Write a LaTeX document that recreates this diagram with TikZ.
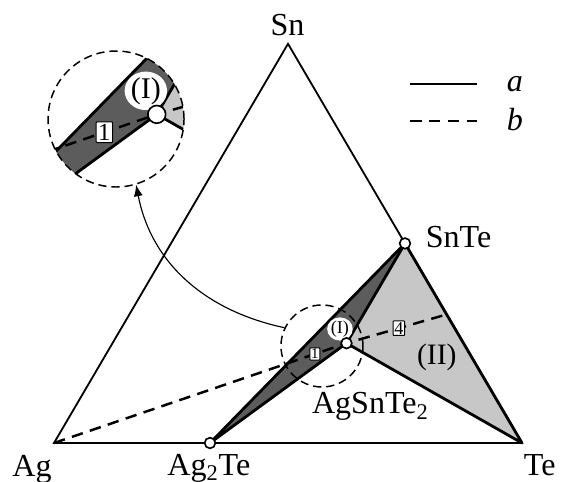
\documentclass[tikz,border=0pt]{standalone}
\usepackage{fontspec}
\setmainfont{Liberation Serif}
\usepackage{tikz}
\usetikzlibrary{arrows.meta,shapes.geometric}

\tikzset{
  edge/.style={line width=1.1pt},
  tieline/.style={line width=1.7pt, line join=round},
  section/.style={line width=1.5pt, dash pattern=on 7pt off 4.5pt},
  regionI/.style={fill=black!64},
  regionII/.style={fill=black!22},
  phase/.style={circle, draw, fill=white, line width=1pt, minimum size=6.5pt, inner sep=0pt},
  zoomring/.style={circle, draw, line width=0.9pt, dash pattern=on 5pt off 3pt, inner sep=0pt},
  numbox/.style={draw, solid, fill=white, line width=0.6pt, inner sep=0.8pt, rounded corners=0.5pt, font=\fontsize{11}{12}\selectfont},
  roman/.style={ellipse, fill=white, inner sep=0pt, font=\fontsize{11}{12}\selectfont},
  lbl/.style={anchor=base, font=\fontsize{19.5}{22}\selectfont}
}

% phase field of the Ag--Sn--Te triangle, #1 = name prefix
\newcommand{\phasefield}[1]{
  \coordinate (#1Ag) at (0,0);
  \coordinate (#1Te) at (10,0);
  \coordinate (#1Sn) at (5,8.53);
  \coordinate (#1Ag2Te) at (3.333,0);
  \coordinate (#1SnTe) at (7.5,4.265);
  \coordinate (#1AgSnTe2) at (6.25,2.1325);
  \coordinate (#1P) at (8.39,2.747);
  \fill[regionI] (#1Ag2Te) -- (#1SnTe) -- (#1AgSnTe2) -- cycle;
  \fill[regionII] (#1SnTe) -- (#1Te) -- (#1AgSnTe2) -- cycle;
  \draw[tieline] (#1Ag2Te) -- (#1SnTe) -- (#1Te) -- (#1AgSnTe2) -- cycle;
  \draw[tieline] (#1AgSnTe2) -- (#1SnTe);
  \draw[section] (#1Ag) -- (#1AgSnTe2)
    node[numbox, pos=0.892, font=\fontsize{9}{10}\selectfont] (#1one) {1}
    -- (#1P) node[numbox, pos=0.523] (#1four) {4};
  \node[roman] (#1regI) at (6.11,2.436) {(I)};
}

\begin{document}
\begin{tikzpicture}
  \useasboundingbox (-1.154,-0.833) rectangle (10.876,9.466);

  % triangle
  \draw[edge, line join=miter] (0,0) -- (5,8.53) -- (10,0) -- cycle;
  \phasefield{}
  \node[phase] (ag2te) at (Ag2Te) {};
  \node[phase] (snte) at (SnTe) {};
  \node[phase] (agsnte2) at (AgSnTe2) {};
  \node[font=\fontsize{18}{20}\selectfont] (regII) at (8.18,1.84) {(II)};

  % labels
  \node[lbl] (lAg) at (-0.47,-0.726) {Ag};
  \node[lbl] (lAg2Te) at (3.31,-0.70) {Ag\textsubscript{2}Te};
  \node[lbl] (lTe) at (10.38,-0.705) {Te};
  \node[lbl] (lSn) at (4.99,8.70) {Sn};
  \node[lbl, anchor=base west] (lSnTe) at (7.82,4.167) {SnTe};
  \node[lbl] (lAgSnTe2) at (6.76,0.62) {AgSnTe\textsubscript{2}};

  % zoomed part
  \node[zoomring, minimum size=1.752cm] (zoomsmall) at (5.726,2.073) {};
  \begin{scope}[shift={(-8.174,3.484)}, scale=1.659, transform shape]
    \clip (5.726,2.073) circle (0.876);
    \phasefield{z}
    \node[phase] (zagsnte2) at (zAgSnTe2) {};
  \end{scope}
  \node[zoomring, minimum size=2.906cm] (zoombig) at (1.325,6.923) {};
  \draw[line width=0.7pt, -{Latex[length=7pt,width=5.5pt]}] (zoomsmall.154) to[out=168, in=-79] (zoombig.-73);

  % legend
  \node[lbl, font=\fontsize{19.5}{22}\selectfont\itshape] (la) at (9.85,7.506) {a};
  \node[lbl, font=\fontsize{19.5}{22}\selectfont\itshape] (lb) at (9.85,6.688) {b};
  \draw[line width=1.7pt] (7.607,7.671) -- (9.04,7.671);
  \draw[section] (7.607,6.88) -- (9.04,6.88);
\end{tikzpicture}
\end{document}
